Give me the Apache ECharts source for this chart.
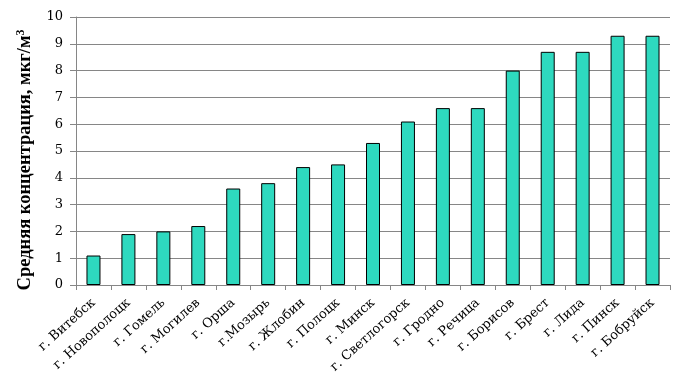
<!DOCTYPE html>
<html>
<head>
<meta charset="utf-8">
<script src="https://cdn.jsdelivr.net/npm/echarts@6/dist/echarts.min.js"></script>
<style>
  html, body { margin: 0; padding: 0; background: #fff; }
  #chart { width: 681px; height: 377px; }
</style>
</head>
<body>
<div id="chart"></div>
<script>
// Средняя концентрация по городам
const cities = ['г. Витебск', 'г. Новополоцк', 'г. Гомель', 'г. Могилев', 'г. Орша', 'г.Мозырь',
  'г. Жлобин', 'г. Полоцк', 'г. Минск', 'г. Светлогорск', 'г. Гродно', 'г. Речица',
  'г. Борисов', 'г. Брест', 'г. Лида', 'г. Пинск', 'г. Бобруйск'];
const values = [1.1, 1.9, 2.0, 2.2, 3.6, 3.8, 4.4, 4.5, 5.3, 6.1, 6.6, 6.6, 8.0, 8.7, 8.7, 9.3, 9.3];
const yTicks = [0, 1, 2, 3, 4, 5, 6, 7, 8, 9, 10];

const SERIF = '"Liberation Serif", "Times New Roman", serif';
const WIDE = '"DejaVu Serif", serif';
const GRAY = '#868686';

const chart = echarts.init(document.getElementById('chart'), null, { renderer: 'canvas' });
chart.setOption({
  animation: false,
  grid: { left: 76, right: 11, top: 17, bottom: 92 },
  xAxis: {
    type: 'category', data: cities,
    axisLine: { lineStyle: { color: GRAY } },
    axisTick: { show: true, length: 5, lineStyle: { color: GRAY } },
    axisLabel: { rotate: 42, color: '#000', fontFamily: WIDE, fontSize: 13, margin: 16, interval: 0 },
  },
  yAxis: {
    type: 'value', min: yTicks[0], max: yTicks[yTicks.length - 1], interval: 1,
    name: '{b|Средняя концентрация, мкг/м}{s|3}',
    nameLocation: 'middle', nameGap: 41, nameRotate: 90,
    nameTextStyle: {
      padding: [0, 18, 0, 0],
      rich: {
        b: { fontFamily: SERIF, fontSize: 18.5, fontWeight: 'bold', color: '#000', lineHeight: 20 },
        s: { fontFamily: SERIF, fontSize: 12, fontWeight: 'bold', color: '#000', lineHeight: 20, verticalAlign: 'top' },
      },
    },
    axisLine: { show: true, lineStyle: { color: GRAY } },
    axisTick: { show: true, length: 6, lineStyle: { color: GRAY } },
    axisLabel: { color: '#000', fontFamily: WIDE, fontSize: 13, margin: 13 },
    splitLine: { lineStyle: { color: GRAY } },
  },
  series: [{
    type: 'bar', data: values, barWidth: 14,
    itemStyle: { color: '#2ED9BF', borderColor: '#000', borderWidth: 1 },
  }],
});
</script>
</body>
</html>
